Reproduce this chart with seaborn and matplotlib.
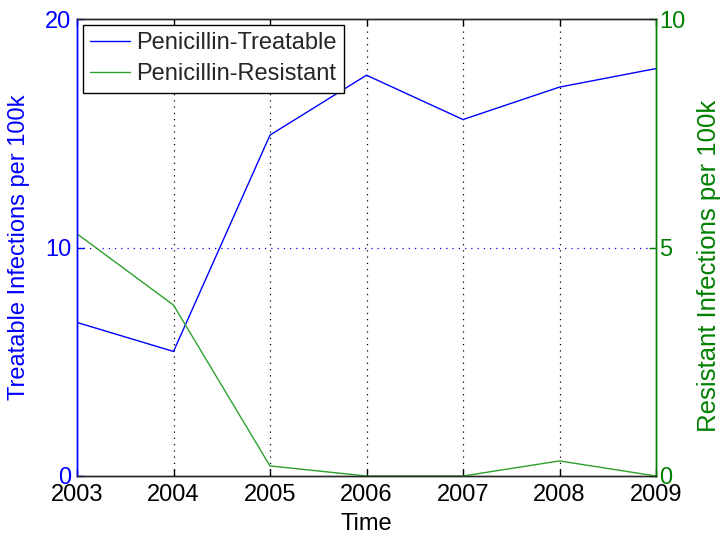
import matplotlib
matplotlib.use("Agg")
import matplotlib.pyplot as plt
import seaborn as sns
import pandas as pd

years = [2003, 2004, 2005, 2006, 2007, 2008, 2009]
treatable = [6.72, 5.45, 14.92, 17.54, 15.60, 17.02, 17.83]
resistant = [5.30, 3.74, 0.22, 0.0, 0.0, 0.33, 0.0]

sns.set_style("white")
plt.rcParams['font.family'] = ['Liberation Sans', 'DejaVu Sans']

blue = "#0000ff"
green = "#008000"
green_line = "#2ca02c"

df = pd.DataFrame({"Time": years, "Treatable": treatable, "Resistant": resistant})

fig = plt.figure(figsize=(7.23, 5.39), dpi=100)
ax = fig.add_axes([77/723, 1 - 476/539, (656-77)/723, (476-19)/539])
ax2 = ax.twinx()

sns.lineplot(data=df, x="Time", y="Treatable", ax=ax, color=blue, lw=1.0,
             label="Penicillin-Treatable", legend=False)
sns.lineplot(data=df, x="Time", y="Resistant", ax=ax2, color=green_line, lw=1.0,
             label="Penicillin-Resistant", legend=False)

ax.set_xlim(2003, 2009)
ax.set_ylim(0, 20)
ax2.set_ylim(0, 10)
ax.set_xticks(years)
ax.set_xticklabels([str(y) for y in years])
ax.set_yticks([0, 10, 20])
ax2.set_yticks([0, 5, 10])

# grid lines: vertical at each year, horizontal at the middle tick
for yr in years[1:-1]:
    ax.axvline(yr, color="black", ls=(0, (1, 4)), lw=0.9, zorder=0)
ax.axhline(10, color=blue, ls=(0, (1, 4)), lw=0.9, zorder=0)

fs = 17
ax.tick_params(axis="x", direction="in", top=True, bottom=True, length=5,
               labelsize=fs, colors="black", pad=5.5, width=1)
ax.tick_params(axis="y", direction="in", left=True, length=5, labelsize=fs,
               colors=blue, pad=4, width=1)
ax2.tick_params(axis="y", direction="in", right=True, length=5, labelsize=fs,
                colors=green, pad=2, width=1)

for a in (ax, ax2):
    for s in a.spines.values():
        s.set_linewidth(1.0)
    a.spines["top"].set_color("#262626")
    a.spines["bottom"].set_color("#262626")
ax.spines["left"].set_color(blue)
ax2.spines["left"].set_color(blue)
ax2.spines["right"].set_color(green)
ax.spines["right"].set_color(green)

ax.set_xlabel("Time", fontsize=fs, color="black", labelpad=5.5)
ax.set_ylabel("Treatable Infections per 100k", fontsize=fs, color=blue)
ax.yaxis.set_label_coords(-47/579, 0.5)
ax2.set_ylabel("Resistant Infections per 100k", fontsize=18.5, color=green)
ax2.yaxis.set_label_coords(1 + 41/579, (476-266)/457)

h1, l1 = ax.get_legend_handles_labels()
h2, l2 = ax2.get_legend_handles_labels()
leg = ax2.legend(h1 + h2, l1 + l2, loc="upper left", fontsize=fs, frameon=True,
                 fancybox=False, edgecolor="black", framealpha=1,
                 borderaxespad=0.25, handlelength=1.7, handletextpad=0.25,
                 borderpad=0.3, labelspacing=0.4)
leg.get_frame().set_linewidth(1.0)

fig.savefig("out.png", dpi=100)
